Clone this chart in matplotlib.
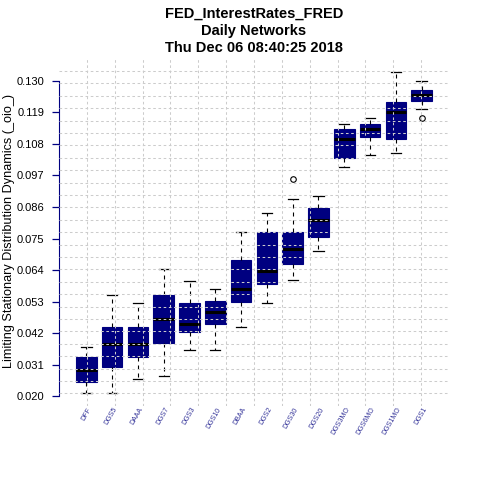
import numpy as np
import matplotlib
matplotlib.use("Agg")
import matplotlib.pyplot as plt
import matplotlib.transforms as mtransforms

plt.rcParams["font.family"] = ["Liberation Sans", "DejaVu Sans"]

# series
names = ["DFF", "DGS5", "DAAA", "DGS7", "DGS3", "DGS10", "DBAA", "DGS2",
         "DGS30", "DGS20", "DGS3MO", "DGS6MO", "DGS1MO", "DGS1"]
whis_lo = [0.0209, 0.0209, 0.0258, 0.0270, 0.0361, 0.0361, 0.0440, 0.0524,
           0.0605, 0.0706, 0.1000, 0.1042, 0.1048, 0.1201]
q1 = [0.0248, 0.0302, 0.0335, 0.0386, 0.0424, 0.0450, 0.0527, 0.0590,
      0.0660, 0.0754, 0.1032, 0.1103, 0.1099, 0.1231]
median = [0.0291, 0.0381, 0.0381, 0.0470, 0.0451, 0.0492, 0.0573, 0.0638,
          0.0714, 0.0816, 0.1099, 0.1131, 0.1191, 0.1251]
q3 = [0.0337, 0.0440, 0.0440, 0.0553, 0.0524, 0.0533, 0.0675, 0.0772,
      0.0771, 0.0856, 0.1131, 0.1149, 0.1226, 0.1269]
whis_hi = [0.0370, 0.0552, 0.0524, 0.0642, 0.0603, 0.0573, 0.0774, 0.0838,
           0.0887, 0.0898, 0.1149, 0.1170, 0.1333, 0.1301]
outliers = [[], [], [], [], [], [], [], [], [0.0958], [], [], [], [], [0.1170]]

ytick_vals = np.round(np.linspace(0.020, 0.130, 11), 3)

stats = []
for i in range(len(names)):
    stats.append({"label": names[i], "whislo": whis_lo[i], "q1": q1[i],
                  "med": median[i], "q3": q3[i], "whishi": whis_hi[i],
                  "fliers": outliers[i]})

fig = plt.figure(figsize=(4.8, 4.8), dpi=100)
ax = fig.add_axes([59 / 480, 1 - 405.8 / 480, 390 / 480, 347.2 / 480])

n = len(names)
positions = np.arange(1, n + 1)
ax.bxp(stats, positions=positions, widths=0.8, capwidths=0.4,
       patch_artist=True, showfliers=True,
       boxprops=dict(facecolor="#000080", edgecolor="#000080", linewidth=0.8),
       whiskerprops=dict(color="black", linewidth=0.8, linestyle=(0, (3.6, 3.6))),
       capprops=dict(color="black", linewidth=0.9),
       medianprops=dict(color="black", linewidth=2.2),
       flierprops=dict(marker="o", markerfacecolor="none", markeredgecolor="black",
                       markersize=4, markeredgewidth=0.8))

xlo, xhi = 0.5 - 0.04 * n, n + 0.5 + 0.04 * n
ylo, yhi = 0.01658, 0.13782
ax.set_xlim(xlo, xhi)
ax.set_ylim(ylo, yhi)

# R style grid(nx, ny) drawn over the boxes
for xg in np.linspace(xlo, xhi, 15)[1:-1]:
    ax.axvline(xg, color="#cccccc", linewidth=0.75, linestyle=(0, (2.5, 2.5)), zorder=5)
for yg in np.linspace(ylo, yhi, 29)[1:-1]:
    ax.axhline(yg, color="#cccccc", linewidth=0.75, linestyle=(0, (2.5, 2.5)), zorder=5)

for side in ["top", "right", "bottom"]:
    ax.spines[side].set_visible(False)
ax.spines["left"].set_color("#000080")
ax.spines["left"].set_bounds(0.020, 0.130)
ax.set_yticks(ytick_vals)
ax.set_yticklabels(["%.3f" % v for v in ytick_vals])
ax.tick_params(axis="y", colors="#000080", labelcolor="black", labelsize=8,
               length=5, width=0.9, pad=5.5)
ax.set_xticks([])

trans = mtransforms.blended_transform_factory(ax.transData, ax.transAxes)
for pos, name in zip(positions, names):
    ax.text(pos + 0.15, -0.006, name, transform=trans, rotation=60,
            rotation_mode="anchor", ha="right", va="center",
            fontsize=5, color="#333399")

fig.text(9.5 / 480, 1 - 231 / 480,
         "Limiting Stationary Distribution Dynamics (_oio_)",
         rotation=90, ha="center", va="center", fontsize=9.1)

fig.text(254 / 480, 1 - 31 / 480,
         "FED_InterestRates_FRED\nDaily Networks\nThu Dec 06 08:40:25 2018",
         ha="center", va="center", fontsize=10.5, fontweight="bold",
         linespacing=1.3)

fig.savefig("out.png", dpi=100, facecolor="white")
plt.close(fig)
